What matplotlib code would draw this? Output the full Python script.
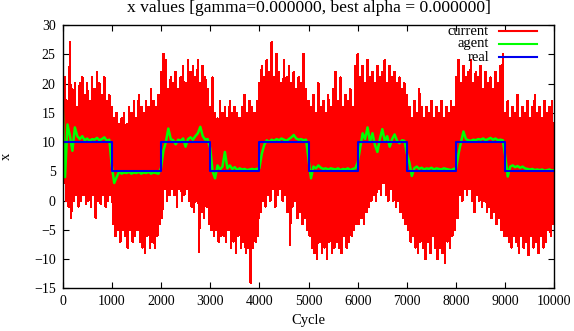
import matplotlib
matplotlib.use('Agg')
import matplotlib.pyplot as plt
import numpy as np

# x values read off the reference, sampled every 50 cycles
# "current": spike tops (at 0, 50, 100, ...) and spike bottoms (at 25, 75, ...)
current_top = [
    18, 21, 17, 27, 19, 20, 16, 20, 21, 18, 20, 17, 21, 19, 22, 20, 18, 21, 17, 18,
    16, 14, 15, 13, 14, 15, 13, 16, 15, 17, 14, 18, 16, 15, 17, 16, 19, 17, 16, 18,
    22, 25, 24, 19, 21, 20, 22, 19, 21, 23, 20, 24, 22, 23, 21, 24, 20, 23, 21, 19,
    16, 21, 15, 14, 17, 15, 16, 14, 17, 15, 16, 15, 14, 16, 18, 15, 17, 16, 15, 17,
    20, 23, 21, 24, 22, 27, 21, 25, 22, 20, 24, 21, 23, 20, 22, 19, 21, 20, 25, 19,
    17, 16, 18, 15, 20, 16, 17, 15, 18, 16, 19, 22, 17, 21, 16, 18, 17, 19, 16, 23,
    25, 21, 23, 20, 24, 21, 22, 20, 23, 21, 22, 24, 20, 23, 21, 22, 20, 21, 19, 20,
    18, 16, 14, 17, 15, 19, 16, 14, 16, 15, 17, 14, 16, 15, 17, 14, 16, 15, 17, 16,
    21, 24, 20, 23, 21, 22, 24, 20, 22, 21, 23, 19, 22, 20, 21, 19, 22, 20, 23, 25,
    15, 17, 14, 16, 15, 18, 14, 16, 15, 17, 14, 16, 18, 15, 16, 14, 17, 15, 16, 17,
]
current_bottom = [
    3, 0, -1, -3, 0, 1, -1, 0, 1, -0.5, 0, -1, 1, -3, 0, -0.5, 1, -1, 0, 1,
    -4, -6, -5, -7, -5, -6, -8, -5, -7, -6, -5, -7, -8, -9, -6, -8, -7, -8, -6, -4,
    -3, 2, 0, 1, 2, 1, -1, 2, 0, 1, 2, 0, -1, -2, 0, -8.7, -2, -3, -1, -4,
    -5, -6, -5, -7, -6, -6, -7, -5, -8, -7, -9, -6, -8, -7, -9, -8, -14, -8, -7, -6,
    -2, 0, -1, 1, 0, 2, -1, 1, 2, 0, 1, -2, -7.6, -1, 0, -3, -2, -4, -3, -5,
    -6, -8, -9, -10, -7, -9, -8, -10, -7, -9, -8, -7, -8, -9, -6, -8, -7, -6, -5, -4,
    -4, -3, -4, -2, -1, 0, 1, 0, 2, 1, 3, 1, 0, 2, 0, -1, 0, -2, -3, -4,
    -5, -7, -6, -8, -9, -7, -8, -10, -7, -9, -6, -8, -10, -8, -9, -10.7, -7, -8, -6, -5,
    -3, 1, 0, 2, 1, 2, 0, -2, 1, 0, -1, 0, -2, -1, -3, -2, -4, -3, -5, -6,
    -6, -7, -8, -6, -7, -9, -6, -8, -7, -9.3, -6, -8, -7, -9, -6, -8, -7, -5, -6, -4,
]
# "agent": at 0, 50, ..., 10000
agent = [
    17, 4, 13, 11, 8.5, 12.5, 11, 10.5, 11, 10.3, 10.6, 10.2, 10.5, 10.4, 10.7, 10.3, 10.5, 10.8, 10.2, 10.4,
    6, 3, 4, 5, 4.6, 4.8, 4.7, 4.9, 4.6, 4.8, 4.7, 4.9, 4.6, 4.8, 4.7, 4.9, 4.6, 4.8, 4.7, 4.6,
    5.5, 8.5, 10, 12.3, 10.5, 10.3, 9.6, 10.4, 10.2, 10.6, 9.2, 10.5, 10.8, 10.4, 11, 11.5, 12.6, 11, 10.4, 10.5,
    9, 5, 3.8, 6, 5.3, 5.8, 8.3, 5.5, 6, 5.4, 5.7, 5.2, 5.5, 5.3, 5.4, 5.2, 5.3, 5.4, 5.3, 5.4,
    5.5, 8, 9.5, 10.3, 10, 10.4, 10.2, 10.5, 10.3, 10.6, 10.4, 10.2, 10.5, 10.8, 11.2, 10.6, 10.4, 10.5, 10.3, 10.4,
    7, 3.8, 5.8, 5.5, 6, 5.6, 5.4, 5.5, 5.3, 5.5, 5.4, 5.3, 5.5, 5.2, 5.4, 5.3, 5.5, 5.2, 5.4, 5.5,
    6.5, 9, 11.5, 10.5, 12.5, 10, 11.5, 9.5, 8.3, 10.5, 12.2, 10.2, 11, 9.2, 10.5, 11.3, 10.2, 9.8, 10.3, 10.2,
    8, 6.5, 4.2, 5.5, 5.8, 5.4, 5.6, 5.3, 5.5, 5.4, 5.6, 5.3, 5.5, 5.4, 5.3, 5.5, 5.4, 5.3, 5.2, 5.4,
    5.5, 8, 10, 11.8, 10.5, 10.3, 10.2, 10.4, 10.3, 10.5, 10.4, 10.6, 10.3, 10.5, 10.7, 10.4, 10.6, 10.3, 10.4, 10.3,
    7.5, 4.1, 5.8, 6, 5.7, 5.9, 5.6, 5.8, 5.5, 5.4, 5.3, 5.4, 5.2, 5.3, 5.2, 5.3, 5.1, 5.2, 5.3, 5.1,
    5.2,
]
# "real": square wave, level held from each edge to the next
real_edges = [0, 1000, 2000, 3000, 4000, 5000, 6000, 7000, 8000, 9000, 10000]
real_levels = [10, 5, 10, 5, 10, 5, 10, 5, 10, 5, 5]

plt.rcParams['font.family'] = ['Liberation Serif', 'DejaVu Serif']
plt.rcParams['font.size'] = 10.5
plt.rcParams['path.simplify'] = False

fig = plt.figure(figsize=(5.74, 3.31), dpi=100)
ax = fig.add_axes([0.109, 0.129, 0.857, 0.7955])

# interleave tops and bottoms into one trace
n = len(current_top)
cur_x = np.empty(2 * n)
cur_y = np.empty(2 * n)
cur_x[0::2] = np.arange(n) * 50
cur_x[1::2] = np.arange(n) * 50 + 25
cur_y[0::2] = current_top
cur_y[1::2] = current_bottom
agent_x = np.arange(len(agent)) * 50

ax.plot(cur_x, cur_y, color='#ff0000', lw=1.1, antialiased=False)
ax.plot(agent_x, agent, color='#00ff00', lw=1.8)
ax.step(real_edges, real_levels, where='post', color='#0000ee', lw=1.5)

ax.set_xlim(0, 10000)
ax.set_ylim(-15, 30)
ax.set_xticks(range(0, 10001, 1000))
ax.set_yticks(range(-15, 31, 5))
ax.tick_params(direction='in', length=4, top=True, right=True, width=0.8, pad=5,
               labelsize=10)
for s in ax.spines.values():
    s.set_linewidth(1.0)

ax.set_title('x values [gamma=0.000000, best alpha = 0.000000]', pad=9)
ax.set_xlabel('Cycle', labelpad=4)
ax.set_ylabel('x')
ax.yaxis.set_label_coords(-0.1, 0.5)

# gnuplot-style key: right-aligned text, sample line to its right
keys = [('current', '#ff0000', 0.977), ('agent', '#00ff00', 0.928), ('real', '#0000ee', 0.878)]
for label, color, y in keys:
    ax.plot([0.887, 0.964], [y, y], transform=ax.transAxes, color=color, lw=1.5, zorder=5)
    ax.text(0.867, y, label, transform=ax.transAxes, ha='right', va='center', zorder=5)

fig.savefig('out.png', dpi=100)
